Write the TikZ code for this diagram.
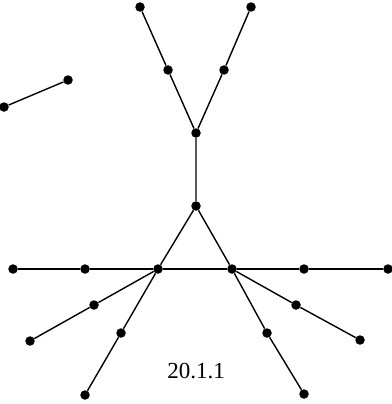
\documentclass[tikz,border=0pt]{standalone}
\usepackage{fontspec}
\setmainfont{Liberation Serif}
\begin{document}
\begin{tikzpicture}[x=1pt,y=-1pt,
  dot/.style={circle,fill=black,inner sep=0pt,minimum size=9.5pt},
  edge/.style={line width=1.4pt,black}]
\useasboundingbox (0,0) rectangle (391,404);
\node[dot] (a1) at (140,7) {};
\node[dot] (a2) at (251,7) {};
\node[dot] (b1) at (168,70) {};
\node[dot] (b2) at (224,70) {};
\node[dot] (c) at (196,133) {};
\node[dot] (d) at (196,206) {};
\node[dot] (e1) at (4,107) {};
\node[dot] (e2) at (68,80) {};
\node[dot] (h1) at (13,269) {};
\node[dot] (h2) at (85,269) {};
\node[dot] (L) at (158,269) {};
\node[dot] (R) at (232,269) {};
\node[dot] (h5) at (304,269) {};
\node[dot] (h6) at (388,269) {};
\node[dot] (p1) at (94,305) {};
\node[dot] (p2) at (30,341) {};
\node[dot] (q1) at (121,333) {};
\node[dot] (q2) at (85,395) {};
\node[dot] (r1) at (296,305) {};
\node[dot] (r2) at (360,340) {};
\node[dot] (s1) at (267,333) {};
\node[dot] (s2) at (304,394) {};
\node[font=\fontsize{23}{26}\selectfont] (lab) at (196,371) {20.1.1};
\draw[edge] (a1) -- (b1) -- (c) -- (d);
\draw[edge] (a2) -- (b2) -- (c);
\draw[edge] (e1) -- (e2);
\draw[edge] (d) -- (L);
\draw[edge] (d) -- (R);
\draw[edge] (h1) -- (h2) -- (L) -- (R) -- (h5) -- (h6);
\draw[edge] (L) -- (p1) -- (p2);
\draw[edge] (L) -- (q1) -- (q2);
\draw[edge] (R) -- (r1) -- (r2);
\draw[edge] (R) -- (s1) -- (s2);
\end{tikzpicture}
\end{document}
